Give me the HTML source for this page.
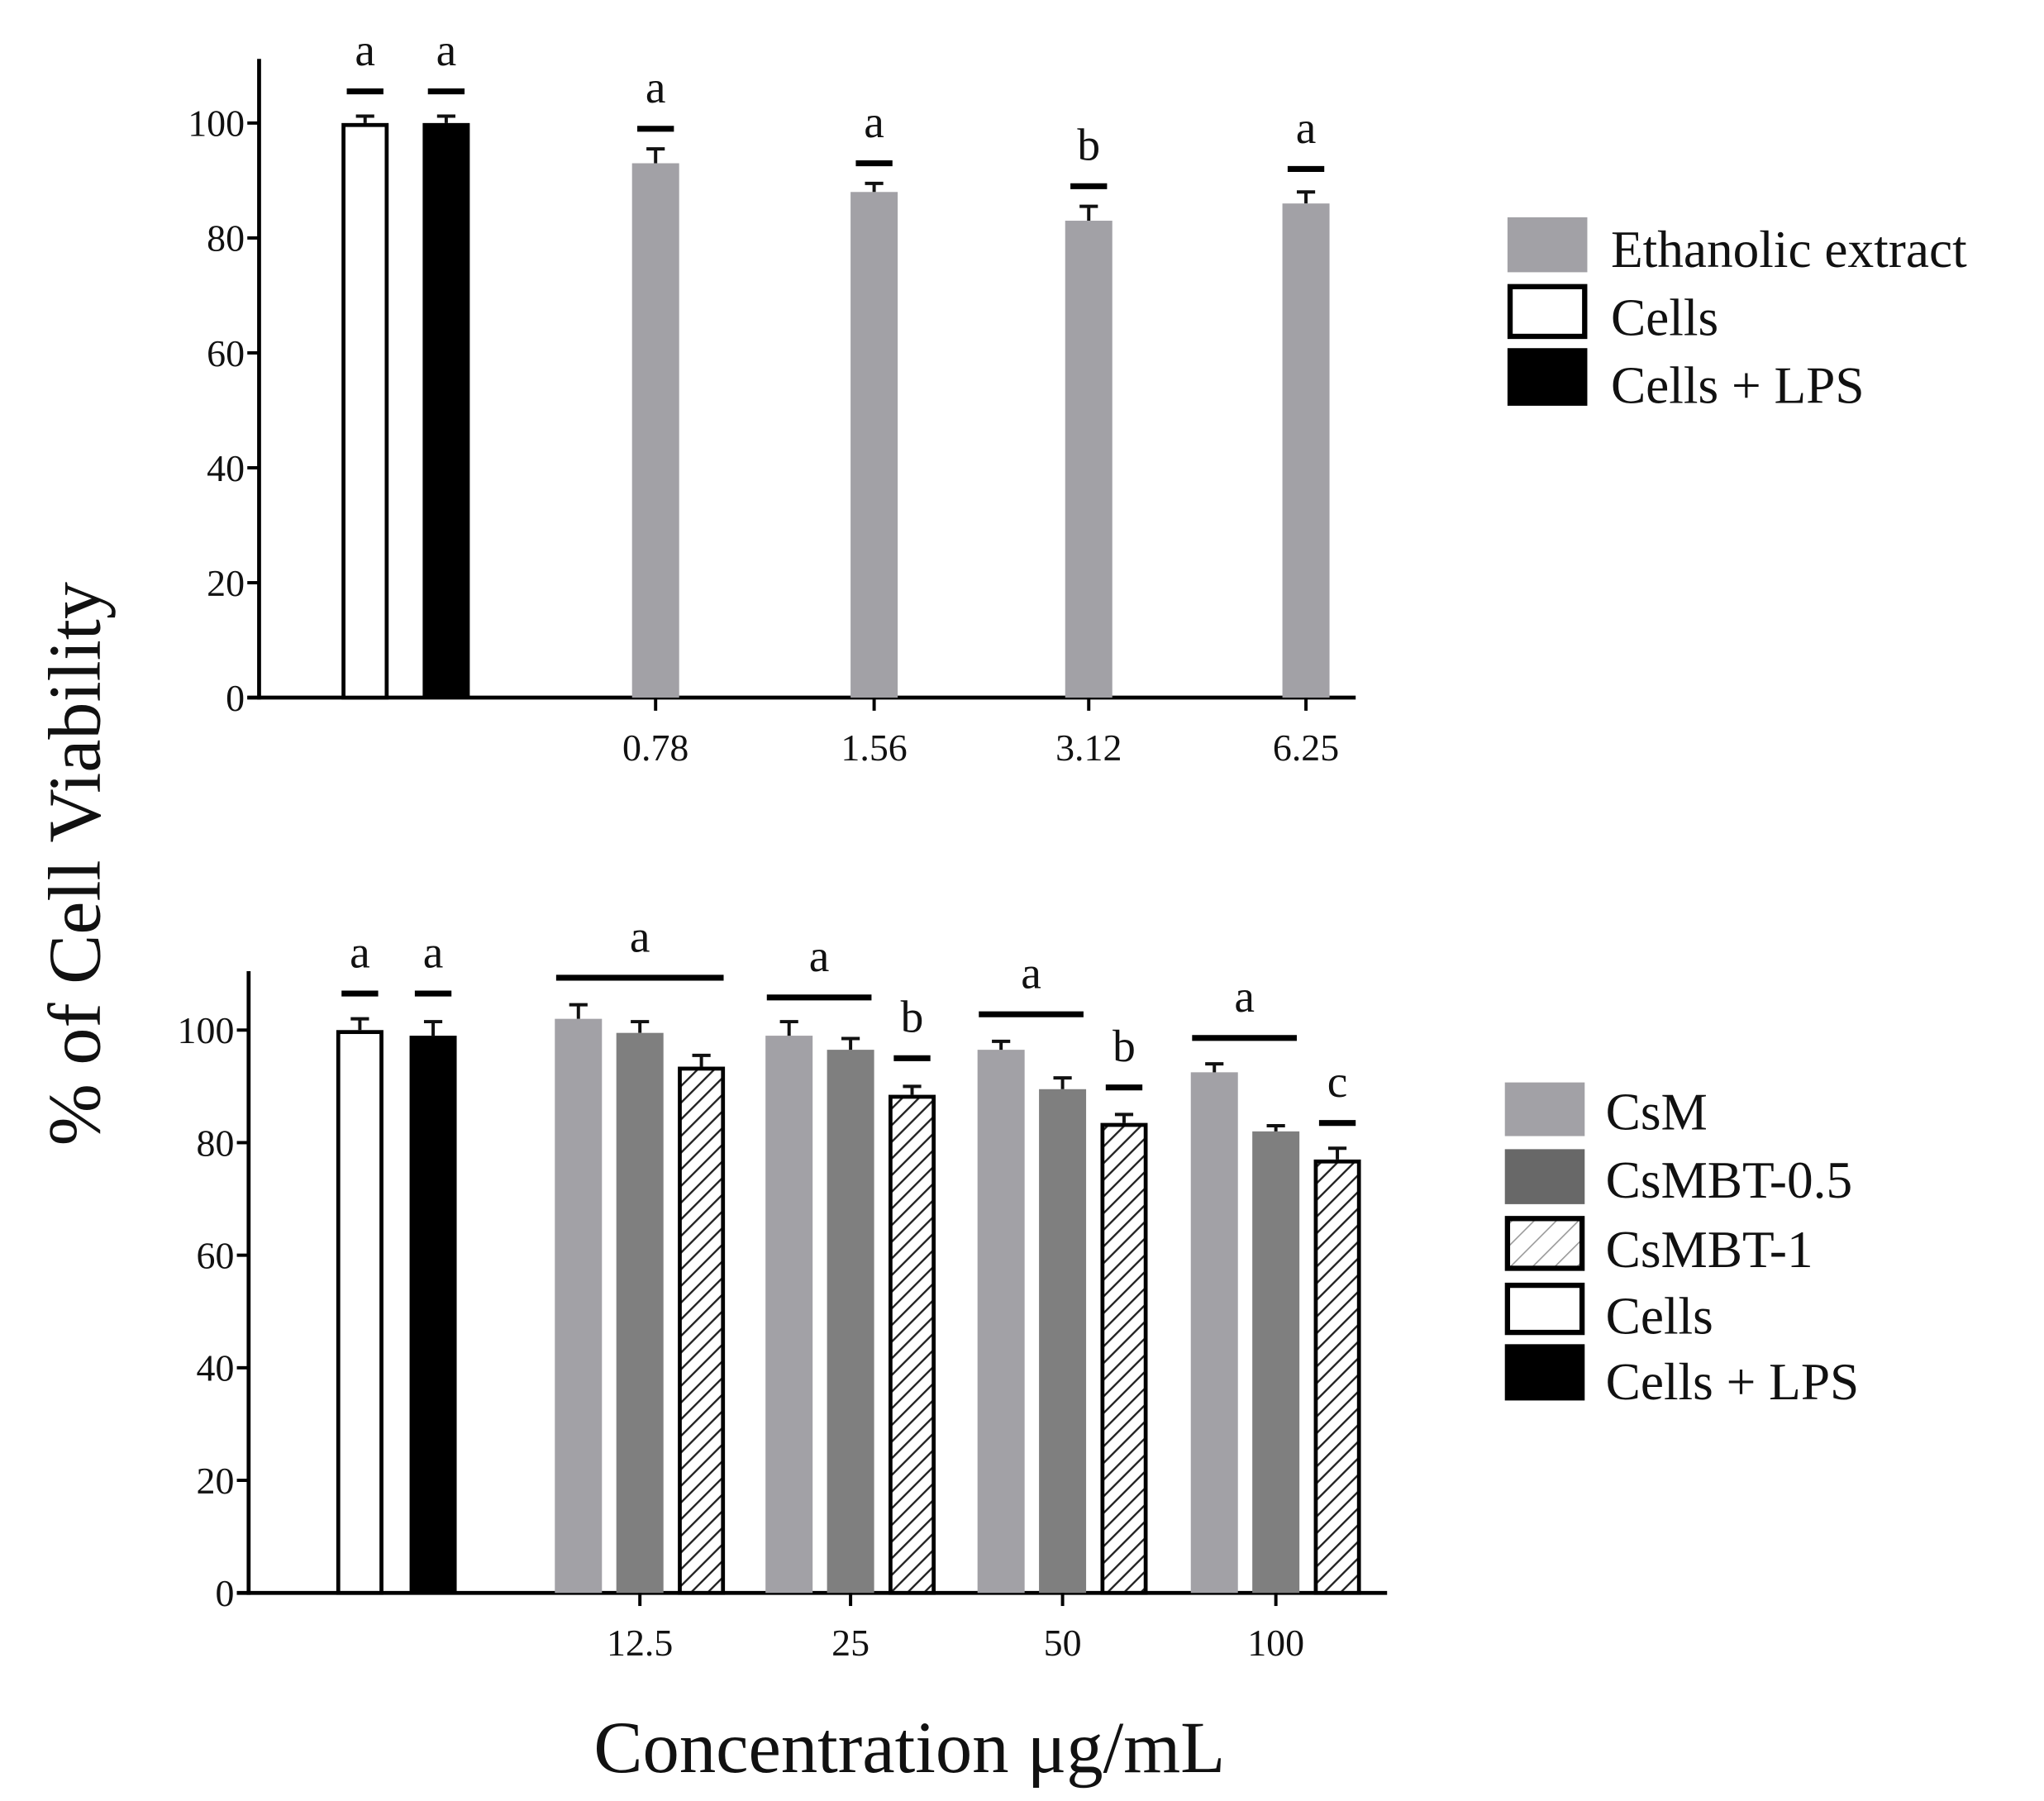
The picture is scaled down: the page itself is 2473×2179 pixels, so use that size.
<!DOCTYPE html>
<html><head><meta charset="utf-8">
<style>
html,body{margin:0;padding:0;background:#fff;}
svg{display:block;}
text{font-family:"Liberation Serif",serif;fill:#111;}
</style></head>
<body>
<svg id="chart" width="2473" height="2179" viewBox="0 0 1562 1376" preserveAspectRatio="none" xmlns="http://www.w3.org/2000/svg">
<defs>
<pattern id="hatch" patternUnits="userSpaceOnUse" width="9" height="9" patternTransform="rotate(45)">
<rect width="9" height="9" fill="#fff"/>
<line x1="0" y1="0" x2="0" y2="9" stroke="#222" stroke-width="3"/>
</pattern>
<pattern id="hatchL" patternUnits="userSpaceOnUse" width="12" height="12" patternTransform="rotate(45)">
<rect width="12" height="12" fill="#fff"/>
<line x1="0" y1="0" x2="0" y2="12" stroke="#999" stroke-width="2"/>
</pattern>
</defs>
<g id="top"></g>
<g id="bot"></g>
<text x="0" y="0" transform="translate(76,660) rotate(-90)" text-anchor="middle" font-size="57">% of Cell Viability</text>
<text x="695" y="1354" text-anchor="middle" font-size="56">Concentration μg/mL</text>
<g>
<rect x="1152" y="166" width="61" height="42" fill="#a2a1a6"/>
<text x="1231" y="204" font-size="40">Ethanolic extract</text>
<rect x="1154" y="219" width="57" height="38" fill="#fff" stroke="#000" stroke-width="4"/>
<text x="1231" y="256" font-size="40">Cells</text>
<rect x="1152" y="266" width="61" height="44" fill="#000"/>
<text x="1231" y="308" font-size="40">Cells + LPS</text>
</g>
<g>
<rect x="1150" y="827" width="61" height="41" fill="#a2a1a6"/>
<text x="1227" y="863" font-size="40">CsM</text>
<rect x="1150" y="878" width="61" height="42" fill="#686868"/>
<text x="1227" y="915" font-size="40">CsMBT-0.5</text>
<rect x="1152" y="931" width="57" height="38" fill="url(#hatchL)" stroke="#000" stroke-width="4"/>
<text x="1227" y="968" font-size="40">CsMBT-1</text>
<rect x="1152" y="982" width="57" height="36" fill="#fff" stroke="#000" stroke-width="4"/>
<text x="1227" y="1019" font-size="40">Cells</text>
<rect x="1150" y="1027" width="61" height="43" fill="#000"/>
<text x="1227" y="1069" font-size="40">Cells + LPS</text>
</g>
</svg>
<script>
// ---- top chart data ----
const topControls = ["Cells","Cells + LPS"];
const topControlVals = [100, 100];
const topControlErr = [1.2, 1.2];
const topControlSig = [105.5, 105.5];
const topCats = ["0.78","1.56","3.12","6.25"];
const topVals = [93, 88, 83, 86];
const topErr = [2.5, 1.5, 2.5, 2];
const topSigY = [99, 93, 89, 92];
const topSigLetters = ["a","a","b","a"];
const yTicks = [0,20,40,60,80,100];

// ---- bottom chart data ----
const botControlVals = [100, 99];
const botControlErr = [2, 2.5];
const botControlSig = [106.5, 106.5];
const botCats = ["12.5","25","50","100"];
const csmVals = [102, 99, 96.5, 92.5];
const csmErr = [2.5, 2.5, 1.5, 1.5];
const bt05Vals = [99.5, 96.5, 89.5, 82];
const bt05Err = [2, 2, 2, 1];
const bt1Vals = [93.5, 88.5, 83.5, 77];
const bt1Err = [2, 1.5, 1.5, 2];
const groupLineY = [109.3, 105.8, 102.8, 98.6];
const bt1SigY = [null, 95, 89.8, 83.5];
const bt1SigLetters = ["", "b", "b", "c"];

const NS = "http://www.w3.org/2000/svg";
function mk(parent, tag, attrs){
  const e = document.createElementNS(NS, tag);
  for (const k in attrs) e.setAttribute(k, attrs[k]);
  parent.appendChild(e);
  return e;
}

function axes(g, ax){
  const yA = mk(g,'line',{x1:ax.x0,y1:ax.top,x2:ax.x0,y2:ax.y0+1.5,stroke:'#000','stroke-width':3});
  
  
  const xA = mk(g,'line',{x1:ax.x0-9,y1:ax.y0,x2:ax.x1,y2:ax.y0,stroke:'#000','stroke-width':3});
  
  
  yTicks.forEach(t=>{
    const y = ax.y(t);
    const tk = mk(g,'line',{x1:ax.x0-9,y1:y,x2:ax.x0,y2:y,stroke:'#000','stroke-width':2.5});
    
    
    const lb = mk(g,'text',{x:ax.x0-11,y:y+10,'text-anchor':'end','font-size':29});
    
    
    lb.textContent = t;
  });
}
function bar(g, ax, cx, w, v, err, fill, stroke, name){
  const y = ax.y(v);
  const r = mk(g,'rect',{x:cx-w/2,y:y,width:w,height:ax.y0-y,fill:fill});
  if (stroke){ r.setAttribute('stroke','#000'); r.setAttribute('stroke-width',3);
    r.setAttribute('x',cx-w/2+1.5); r.setAttribute('width',w-3); r.setAttribute('y',y+1.5); r.setAttribute('height',ax.y0-y-1.5); }
  
  
  const ye = ax.y(v+err);
  const eb = mk(g,'path',{d:`M${cx} ${y} V${ye} M${cx-7} ${ye} H${cx+7}`,stroke:'#111','stroke-width':2.5,fill:'none'});
  
  
}
function sigDash(g, ax, cx, v, letter, halfw){
  const y = ax.y(v);
  const d = mk(g,'line',{x1:cx-halfw,y1:y,x2:cx+halfw,y2:y,stroke:'#000','stroke-width':4.5});
  
  
  const t = mk(g,'text',{x:cx,y:y-20,'text-anchor':'middle','font-size':35});
  
  
  t.textContent = letter;
}
function xTick(g, ax, cx, label){
  const tk = mk(g,'line',{x1:cx,y1:ax.y0,x2:cx,y2:ax.y0+10,stroke:'#000','stroke-width':2.5});
  
  
  const t = mk(g,'text',{x:cx,y:ax.y0+48,'text-anchor':'middle','font-size':29});
  
  
  t.textContent = label;
}

// top chart
(function(){
  const g = document.getElementById('top');
  const ax = {x0:198, x1:1036, y0:533, top:45, y:v=>533 - v*4.39};
  axes(g, ax);
  const ctrlX = [279, 341];
  const fills = ['#fff','#000'];
  topControls.forEach((c,i)=>{
    bar(g, ax, ctrlX[i], 36, topControlVals[i], topControlErr[i], fills[i], i===0, i===0?'bar-cells':'bar-cells-lps');
    sigDash(g, ax, ctrlX[i], topControlSig[i], 'a', 14);
  });
  const catX = [501, 668, 832, 998];
  topCats.forEach((c,i)=>{
    bar(g, ax, catX[i], 36, topVals[i], topErr[i], '#a2a1a6', false, 'bar-ethanolic-'+c);
    sigDash(g, ax, catX[i], topSigY[i], topSigLetters[i], 14);
    xTick(g, ax, catX[i], c);
  });
})();

// bottom chart
(function(){
  const g = document.getElementById('bot');
  const ax = {x0:190, x1:1060, y0:1217, top:742, y:v=>1217 - v*4.30};
  axes(g, ax);
  const ctrlX = [275, 331];
  bar(g, ax, ctrlX[0], 36, botControlVals[0], botControlErr[0], '#fff', true, 'bar-cells');
  bar(g, ax, ctrlX[1], 36, botControlVals[1], botControlErr[1], '#000', false, 'bar-cells-lps');
  ctrlX.forEach((x,i)=>sigDash(g, ax, x, botControlSig[i], 'a', 14));
  const tickX = [489, 650, 812, 975];
  botCats.forEach((c,i)=>{
    const cx = tickX[i];
    bar(g, ax, cx-47, 36, csmVals[i], csmErr[i], '#a2a1a6', false, 'bar-csm-'+c);
    bar(g, ax, cx, 36, bt05Vals[i], bt05Err[i], '#7f7f7f', false, 'bar-csmbt05-'+c);
    bar(g, ax, cx+47, 36, bt1Vals[i], bt1Err[i], 'url(#hatch)', true, 'bar-csmbt1-'+c);
    if (i===0){
      sigDash(g, ax, cx, groupLineY[i], 'a', 64);
    } else {
      sigDash(g, ax, cx-24, groupLineY[i], 'a', 40);
      sigDash(g, ax, cx+47, bt1SigY[i], bt1SigLetters[i], 14);
    }
    xTick(g, ax, cx, c);
  });
})();
</script>
</body></html>
